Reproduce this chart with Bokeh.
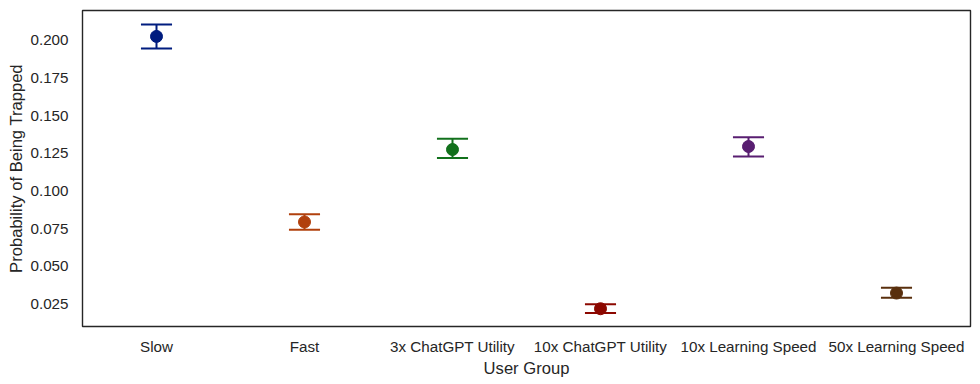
from bokeh.plotting import figure
from bokeh.models import FixedTicker, Range1d, ColumnDataSource
from bokeh.embed import file_html
from bokeh.resources import INLINE

categories = ["Slow", "Fast", "3x ChatGPT Utility", "10x ChatGPT Utility",
              "10x Learning Speed", "50x Learning Speed"]
means = [0.2027, 0.0795, 0.1276, 0.0219, 0.1296, 0.0323]
ci_low = [0.1947, 0.0744, 0.1220, 0.0190, 0.1229, 0.0292]
ci_high = [0.2106, 0.0846, 0.1347, 0.0248, 0.1357, 0.0359]
colors = ["#001c7f", "#b1400d", "#12711c", "#8c0800", "#591e71", "#592f0d"]
y_ticks = [0.025, 0.050, 0.075, 0.100, 0.125, 0.150, 0.175, 0.200]

cap = 0.105
xs = list(range(len(categories)))
src = ColumnDataSource(dict(
    x=xs, m=means, lo=ci_low, hi=ci_high, c=colors,
    xl=[x - cap for x in xs], xr=[x + cap for x in xs],
))

p = figure(width=980, height=384, output_backend="svg", toolbar_location=None,
           x_range=Range1d(-0.5, 5.5), y_range=Range1d(0.0101, 0.2199),
           min_border_left=82, min_border_right=10, min_border_top=10,
           min_border_bottom=58)
p.background_fill_color = "white"
p.border_fill_color = "white"
p.outline_line_color = "#262626"
p.outline_line_width = 1.4
p.grid.visible = False

p.segment(x0="x", y0="lo", x1="x", y1="hi", line_color="c", line_width=2, source=src)
p.segment(x0="xl", y0="lo", x1="xr", y1="lo", line_color="c", line_width=2, source=src)
p.segment(x0="xl", y0="hi", x1="xr", y1="hi", line_color="c", line_width=2, source=src)
p.scatter(x="x", y="m", size=12, fill_color="c", line_color="c", source=src)

p.xaxis.ticker = FixedTicker(ticks=xs)
p.xaxis.major_label_overrides = {i: c for i, c in enumerate(categories)}
p.yaxis.ticker = FixedTicker(ticks=y_ticks)
p.yaxis.major_label_overrides = {t: f"{t:.3f}" for t in y_ticks}

for ax in (p.xaxis, p.yaxis):
    ax.axis_line_color = None
    ax.major_tick_line_color = None
    ax.minor_tick_line_color = None
    ax.major_tick_out = 0
    ax.major_tick_in = 0
    ax.major_label_text_font = "Liberation Sans"
    ax.major_label_text_font_size = "15.2px"
    ax.major_label_text_color = "#262626"
    ax.axis_label_text_font = "Liberation Sans"
    ax.axis_label_text_font_size = "16.6px"
    ax.axis_label_text_font_style = "normal"
    ax.axis_label_text_color = "#262626"

p.xaxis.axis_label = "User Group"
p.yaxis.axis_label = "Probability of Being Trapped"
p.xaxis.major_label_standoff = 11
p.yaxis.major_label_standoff = 14
p.xaxis.axis_label_standoff = 1
p.yaxis.axis_label_standoff = 1

open("out.html", "w").write(file_html(p, INLINE))
